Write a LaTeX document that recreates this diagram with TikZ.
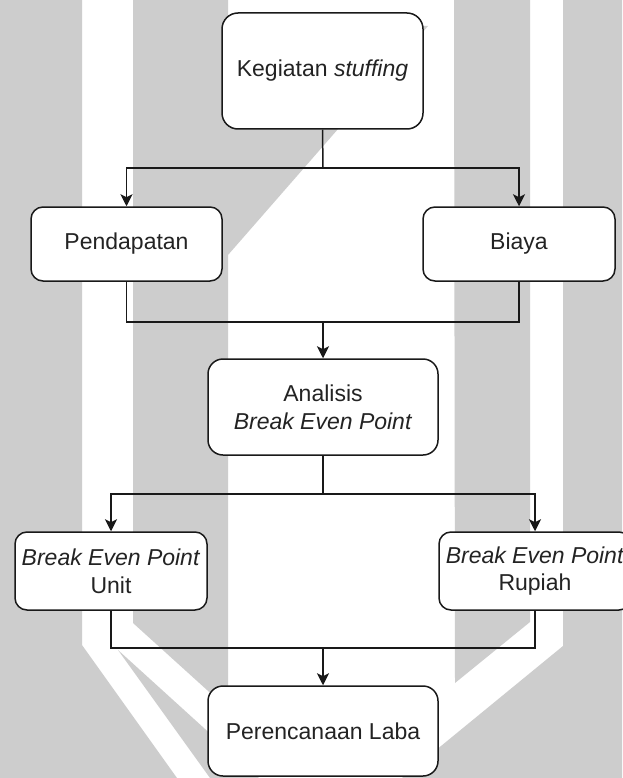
\documentclass[tikz,border=0pt]{standalone}
\usepackage{fontspec}
\setmainfont{Liberation Sans}
\usetikzlibrary{arrows.meta}
\definecolor{wm}{RGB}{205,205,205}
\definecolor{ink}{RGB}{25,25,25}
\definecolor{txt}{RGB}{35,35,35}
\begin{document}
\begin{tikzpicture}[x=1pt,y=-1pt,
  box/.style={draw=ink, line width=1.5pt, fill=white, rounded corners=12pt, inner sep=0pt,
    text=txt, font=\fontsize{23}{27.6}\selectfont, align=center},
  link/.style={draw=ink, line width=1.5pt},
  arr/.style={link, -{Stealth[length=12pt,width=12pt,inset=3pt]}}]
% background and watermark
\useasboundingbox (0,0) rectangle (622,778);
\fill[white] (0,0) rectangle (622,778);
\fill[wm] (0,0) -- (82,0) -- (82,645) -- (177,778) -- (0,778) -- cycle;
\fill[wm] (133,0) -- (228,0) -- (228,26) -- (428,26) -- (228,255) -- (228,709) -- (133,623) -- cycle;
\fill[wm] (454,0) -- (530,0) -- (530,622) -- (455,683) -- cycle;
\fill[wm] (563,0) -- (622,0) -- (622,778) -- (402,778) -- (563,646) -- cycle;
\fill[wm] (118,650) -- (259,778) -- (210,778) -- cycle;
% nodes
\node[box, rounded corners=16pt, minimum width=201pt, minimum height=116pt] (keg) at (322.5,71) {Kegiatan \textit{stuffing}};
\node[box, minimum width=191pt, minimum height=74pt] (pend) at (126.5,244) {Pendapatan};
\node[box, minimum width=192pt, minimum height=74pt] (biaya) at (519,244) {Biaya};
\node[box, rounded corners=15pt, minimum width=230pt, minimum height=96pt] (anal) at (323,407) {Analisis\\\textit{Break Even Point}};
\node[box, minimum width=192pt, minimum height=78pt] (unit) at (111,571) {\textit{Break Even Point}\\Unit};
\node[box, minimum width=192pt, minimum height=78pt] (rup) at (535,571) {\textit{Break Even Point}\\Rupiah};
\node[box, rounded corners=15pt, minimum width=230pt, minimum height=90pt] (plan) at (323,731) {Perencanaan Laba};
% junction coordinates
\coordinate (b1) at (323,168);
\coordinate (m1) at (323,322);
\coordinate (b2) at (323,494);
\coordinate (m2) at (323,648);
% connectors
\draw[link] (keg.south) -- (b1);
\draw[arr] (b1) -| (pend.north);
\draw[arr] (b1) -| (biaya.north);
\draw[link] (pend.south) |- (m1) -| (biaya.south);
\draw[arr] (m1) -- (anal.north);
\draw[link] (anal.south) -- (b2);
\draw[arr] (b2) -| (unit.north);
\draw[arr] (b2) -| (rup.north);
\draw[link] (unit.south) |- (m2) -| (rup.south);
\draw[arr] (m2) -- (plan.north);
\end{tikzpicture}
\end{document}
